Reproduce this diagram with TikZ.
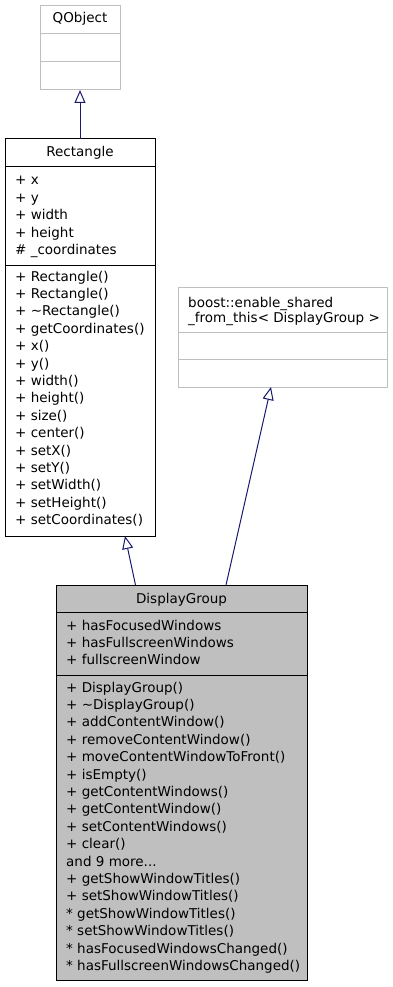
\documentclass[tikz,border=0pt]{standalone}
\usepackage{fontspec}
\setmainfont{DejaVu Sans}
\usetikzlibrary{arrows.meta,calc}
\definecolor{edgeblue}{HTML}{191970}
\definecolor{boxgray}{HTML}{BFBFBF}
\newcommand\truncnote{and 9 more...}
\begin{document}
\begin{tikzpicture}[x=1pt,y=-1pt,
  uml/.style={draw=black, line width=1pt, rectangle, inner sep=0pt, outer sep=0pt, anchor=north west},
  extuml/.style={uml, draw=boxgray},
  member/.style={anchor=base west, inner sep=0pt, font=\fontsize{13.5}{16}\selectfont},
  title/.style={anchor=base, inner sep=0pt, font=\fontsize{13.5}{16}\selectfont},
  inherit/.style={draw=edgeblue, line width=1pt, -{Triangle[open, length=13pt, width=11pt, line width=1pt]}}
]
\useasboundingbox (0,0) rectangle (392,987);

% ---- QObject (external class) ----
\node[extuml, minimum width=80pt, minimum height=84pt] (qobject) at (40,6) {};
\draw[boxgray, line width=1pt] (40,34) -- (120,34) (40,62) -- (120,62);
\node[title] (qobject-title) at (80,23) {QObject};

% ---- Rectangle ----
\node[uml, minimum width=150pt, minimum height=397pt] (rectangle) at (5,139) {};
\draw[line width=1pt] (5,167) -- (155,167) (5,265) -- (155,265);
\node[title] (rectangle-title) at (80,157) {Rectangle};
\foreach \t [count=\i] in {+ x, + y, + width, + height, \# \_coordinates}
  \node[member] (rect-attr-\i) at (15,{185+(\i-1)*17.4}) {\t};
\foreach \t [count=\i] in {+ Rectangle(), + Rectangle(), + \textasciitilde Rectangle(),
  + getCoordinates(), + x(), + y(), + width(), + height(), + size(), + center(),
  + setX(), + setY(), + setWidth(), + setHeight(), + setCoordinates()}
  \node[member] (rect-op-\i) at (15,{281+(\i-1)*17.4}) {\t};

% ---- boost::enable_shared_from_this (external class) ----
\node[extuml, minimum width=209pt, minimum height=100pt] (enable) at (178,287) {};
\draw[boxgray, line width=1pt] (178,332) -- (387,332) (178,359) -- (387,359);
\node[member] (enable-title-1) at (188,307) {boost::enable\_shared};
\node[member] (enable-title-2) at (188,322) {\_from\_this< DisplayGroup >};

% ---- DisplayGroup ----
\node[uml, fill=boxgray, minimum width=251pt, minimum height=395pt] (displaygroup) at (56,585) {};
\draw[line width=1pt] (56,612) -- (307,612) (56,675) -- (307,675);
\node[title] (dg-title) at (181.5,603) {DisplayGroup};
\foreach \t [count=\i] in {+ hasFocusedWindows, + hasFullscreenWindows, + fullscreenWindow}
  \node[member] (dg-attr-\i) at (66,{630+(\i-1)*17.4}) {\t};
\foreach \t [count=\i] in {+ DisplayGroup(), + \textasciitilde DisplayGroup(), + addContentWindow(),
  + removeContentWindow(), + moveContentWindowToFront(), + isEmpty(),
  + getContentWindows(), + getContentWindow(), + setContentWindows(), + clear(),
  \truncnote, + getShowWindowTitles(), + setShowWindowTitles(),
  * getShowWindowTitles(), * setShowWindowTitles(),
  * hasFocusedWindowsChanged(), * hasFullscreenWindowsChanged()}
  \node[member] (dg-op-\i) at (66,{692+(\i-1)*17.4}) {\t};

% ---- inheritance edges ----
\draw[inherit] (rectangle.north) -- (qobject.south);
\draw[inherit] ($(displaygroup.north)+(-46,0)$) -- ($(rectangle.south)+(45,0)$);
\draw[inherit] ($(displaygroup.north)+(44.5,0)$) -- ($(enable.south)+(-11.5,0)$);
\end{tikzpicture}
\end{document}
